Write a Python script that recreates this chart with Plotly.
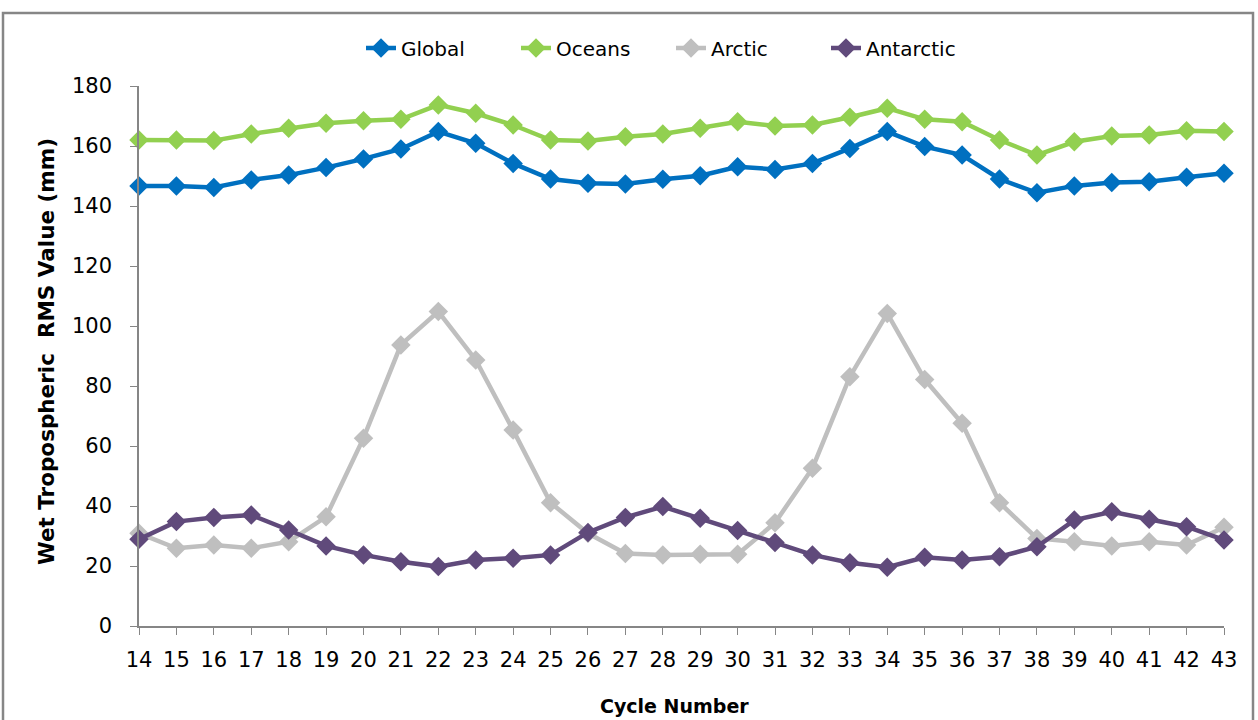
import plotly.graph_objects as go

cycles = list(range(14, 44))
global_vals = [146.7, 146.7, 146.2, 148.7, 150.3, 152.8, 155.7, 159.0, 164.8, 160.9,
               154.2, 149.0, 147.6, 147.3, 148.9, 150.1, 153.1, 152.2, 154.2, 159.2,
               164.8, 159.8, 157.0, 149.0, 144.4, 146.7, 147.8, 148.1, 149.6, 150.9]
oceans_vals = [162.0, 162.0, 161.8, 164.0, 165.9, 167.6, 168.4, 168.9, 173.7, 170.9,
               167.0, 162.0, 161.7, 163.1, 164.0, 165.9, 168.1, 166.7, 167.0, 169.6,
               172.6, 168.9, 168.1, 162.0, 157.0, 161.4, 163.3, 163.7, 165.1, 164.8]
arctic_vals = [30.9, 25.9, 27.0, 25.9, 28.1, 36.4, 62.6, 93.7, 104.8, 88.7,
               65.3, 41.1, 30.9, 24.2, 23.7, 23.9, 23.9, 34.4, 52.6, 83.1,
               104.2, 82.2, 67.6, 41.1, 29.2, 28.1, 26.7, 28.1, 27.0, 32.9]
antarctic_vals = [28.9, 34.8, 36.2, 37.0, 32.0, 26.7, 23.7, 21.4, 19.8, 22.0,
                  22.6, 23.7, 31.2, 36.2, 39.8, 35.9, 31.8, 27.8, 23.7, 21.1,
                  19.6, 22.9, 22.0, 23.1, 26.4, 35.3, 38.1, 35.6, 33.1, 28.7]

series = [
    ("Global", global_vals, "#0070C0"),
    ("Oceans", oceans_vals, "#92D050"),
    ("Arctic", arctic_vals, "#BFBFBF"),
    ("Antarctic", antarctic_vals, "#604A7B"),
]

FONT = "'DejaVu Sans', sans-serif"
W, H = 1258, 720
L, R, T, B = 139, 34, 86, 94
PW, PH = W - L - R, H - T - B

fig = go.Figure()
for name, vals, color in series:
    fig.add_trace(go.Scatter(
        x=cycles, y=vals, name=name, mode="lines+markers",
        line=dict(color=color, width=4.5),
        marker=dict(symbol="diamond", size=15, color=color),
        cliponaxis=False,
    ))

fig.update_layout(
    width=W, height=H,
    margin=dict(l=L, r=R, t=T, b=B, autoexpand=False),
    paper_bgcolor="white", plot_bgcolor="white",
    font=dict(family=FONT, size=20, color="black"),
    showlegend=True,
    legend=dict(orientation="h", x=(361 - L) / PW, xanchor="left", y=(H - B - 48) / PH,
                yanchor="middle", font=dict(size=20), entrywidth=110, entrywidthmode="pixels"),
    xaxis=dict(
        range=[14, 43], tickmode="array", tickvals=cycles, ticktext=[str(c) for c in cycles],
        showgrid=False, zeroline=False, showline=True, linecolor="#868686", linewidth=1.5,
        ticks="outside", ticklen=7, tickcolor="#868686", tickfont=dict(size=21),
        ticklabelstandoff=7, automargin=False,
    ),
    yaxis=dict(
        range=[0, 180], dtick=20, tick0=0,
        showgrid=False, zeroline=False, showline=True, linecolor="#868686", linewidth=1.5,
        ticks="outside", ticklen=7, tickcolor="#868686", tickfont=dict(size=21),
        ticklabelstandoff=14, automargin=False,
    ),
    annotations=[
        dict(text="<b>Cycle Number</b>", xref="paper", yref="paper",
             x=(674 - L) / PW, y=(H - B - 706) / PH, showarrow=False,
             xanchor="center", yanchor="middle", font=dict(size=19)),
        dict(text="<b>Wet Tropospheric  RMS Value (mm)</b>", xref="paper", yref="paper",
             x=(46 - L) / PW, y=(H - B - 352) / PH, showarrow=False, textangle=-90,
             xanchor="center", yanchor="middle", font=dict(size=21.5)),
    ],
    shapes=[dict(type="rect", xref="paper", yref="paper",
                 x0=(3 - L) / PW, x1=(1253 - L) / PW,
                 y0=-0.3, y1=(H - B - 13) / PH,
                 line=dict(color="#868686", width=2.5), fillcolor="rgba(0,0,0,0)", layer="below")],
)

fig.write_html("out.html", config={"displayModeBar": False},
               post_script="document.body.style.margin='0';")
